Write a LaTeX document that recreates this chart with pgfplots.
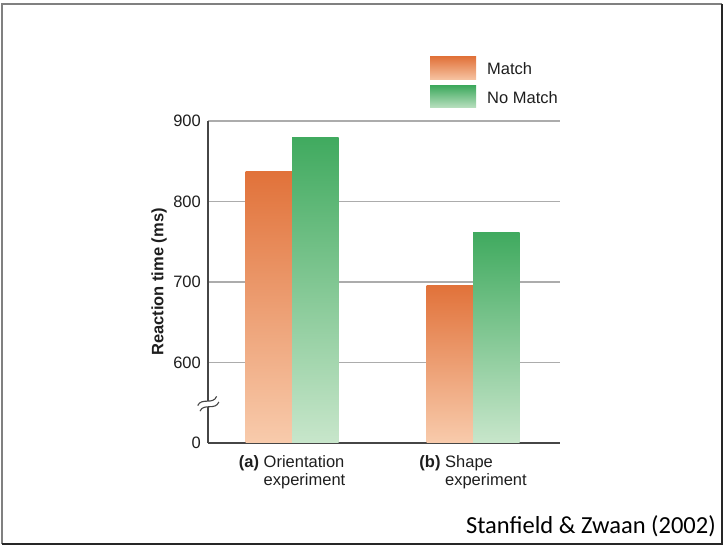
\documentclass[border=0pt]{standalone}
\usepackage{pgfplots}
\pgfplotsset{compat=1.18}
\usepackage{fontspec}
\setmainfont{Liberation Sans}
\newfontfamily\calibri{Carlito}

\definecolor{matchtop}{RGB}{225,114,58}
\definecolor{matchbot}{RGB}{248,203,172}
\definecolor{nomatchtop}{RGB}{64,170,95}
\definecolor{nomatchbot}{RGB}{200,230,203}
\definecolor{gridgray}{RGB}{172,172,172}
\definecolor{axisdark}{RGB}{70,70,70}
\definecolor{textdark}{RGB}{30,30,30}

\newcommand{\lblfont}{\fontsize{16.5bp}{18bp}\selectfont}

\begin{document}
\begin{tikzpicture}
\useasboundingbox (0bp,0bp) rectangle (723bp,546bp);
% slide frame
\draw[line width=2bp, color=black!50] (2bp,2.3bp) -- (2bp,542bp) -- (722bp,542bp);
\draw[line width=2bp, color=black!85] (722bp,542bp) -- (722bp,2.3bp) -- (2bp,2.3bp);

\begin{axis}[
  at={(208bp,103bp)}, anchor=south west,
  scale only axis, width=352bp, height=322bp,
  /pgf/number format/assume math mode=true,
  % broken scale: the lowest tick stands for 0
  y coord trafo/.code={\pgfmathparse{#1-500}},
  y coord inv trafo/.code={\pgfmathparse{#1+500}},
  ymin=500, ymax=900,
  ytick={500,600,700,800,900},
  yticklabels={0,600,700,800,900},
  xmin=-0.465, xmax=1.48,
  xtick={0,1},
  xticklabels={
    {\textbf{(a)} \begin{tabular}[t]{@{}l@{}}Orientation\\experiment\end{tabular}},
    {\textbf{(b)} \begin{tabular}[t]{@{}l@{}}Shape\\experiment\end{tabular}}},
  axis x line*=bottom, axis y line*=left,
  axis line style={axisdark, line width=1.4bp, -},
  major tick length=0pt,
  ymajorgrids,
  grid style={gridgray, line width=1.4bp},
  tick label style={font=\lblfont, text=textdark},
  yticklabel style={inner sep=0pt, xshift=-7bp},
  xticklabel style={inner sep=0pt, anchor=north, yshift=-12bp},
  ylabel={Reaction time (ms)},
  every axis y label/.style={at={(axis description cs:-0.139,0.5)}, rotate=90, anchor=center,
    font=\bfseries\fontsize{16.5bp}{18bp}\selectfont, text=textdark},
  ybar=0pt, bar width=46.5bp,
  clip=false,
]
% one plot per bar so that every bar carries its own gradient
\addplot[draw=none, bar shift=-23.25bp, top color=matchtop, bottom color=matchbot] coordinates {(0,837)};
\addplot[draw=none, bar shift=-23.25bp, top color=matchtop, bottom color=matchbot] coordinates {(1,696)};
\addplot[draw=none, bar shift=23.25bp, top color=nomatchtop, bottom color=nomatchbot] coordinates {(0,880)};
\addplot[draw=none, bar shift=23.25bp, top color=nomatchtop, bottom color=nomatchbot] coordinates {(1,761)};
\coordinate (brk) at (rel axis cs:0,0.124);
\end{axis}

% scale break on the y axis
\begin{scope}[shift={(brk)}, rotate=22]
  \fill[white] (-10.5bp,1.5bp) .. controls (-4bp,8bp) and (4bp,-4bp) .. (10.5bp,3bp)
    -- (10.5bp,-3bp) .. controls (4bp,-10bp) and (-4bp,2bp) .. (-10.5bp,-4.5bp) -- cycle;
  \draw[axisdark, line width=1.1bp] (-10.5bp,1.5bp) .. controls (-4bp,8bp) and (4bp,-4bp) .. (10.5bp,3bp);
  \draw[axisdark, line width=1.1bp] (-10.5bp,-4.5bp) .. controls (-4bp,2bp) and (4bp,-10bp) .. (10.5bp,-3bp);
\end{scope}

% legend
\shade[top color=matchtop, bottom color=matchbot!90!matchtop] (430bp,466.7bp) rectangle (476bp,489.3bp);
\node[anchor=base west, inner sep=0pt, font=\lblfont, text=textdark] at (487bp,471bp) {Match};
\shade[top color=nomatchtop, bottom color=nomatchbot!90!nomatchtop] (430bp,438bp) rectangle (476bp,460bp);
\node[anchor=base west, inner sep=0pt, font=\lblfont, text=textdark] at (487bp,442.7bp) {No Match};

% source
\node[anchor=base east, inner sep=0pt, font=\calibri\fontsize{24.5bp}{28bp}\selectfont] at (716bp,13bp) {Stanfield \& Zwaan (2002)};
\end{tikzpicture}
\end{document}
